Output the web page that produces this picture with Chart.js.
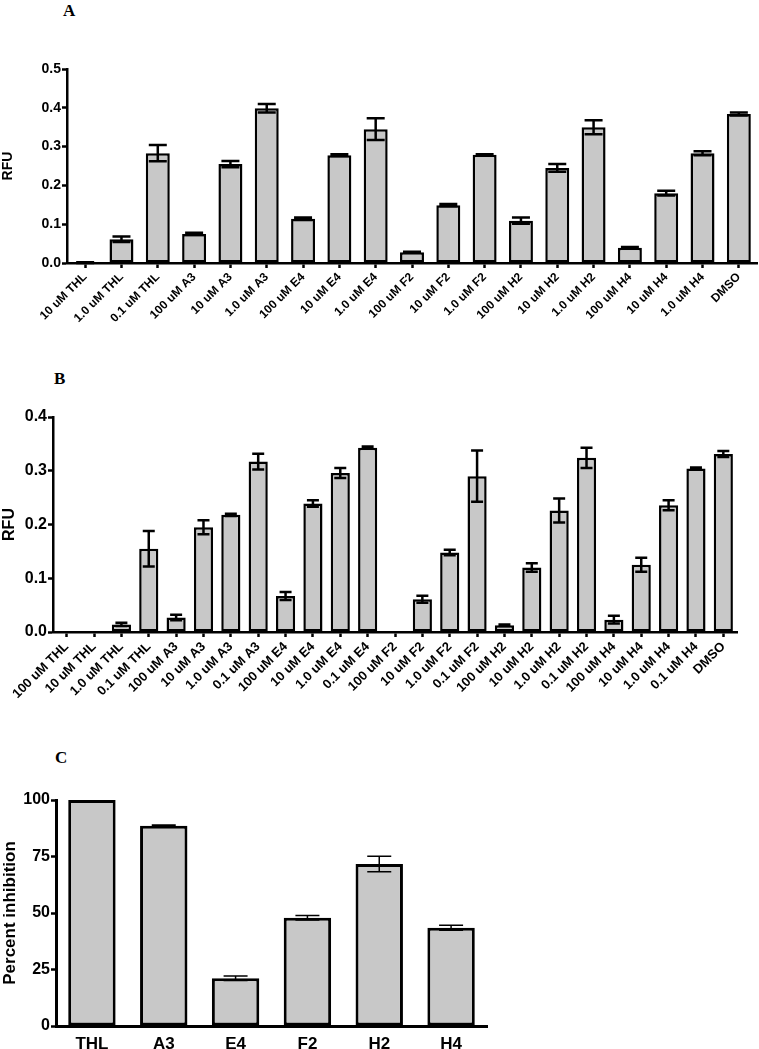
<!DOCTYPE html>
<html>
<head>
<meta charset="utf-8">
<script src="https://cdn.jsdelivr.net/npm/chart.js@4.4.1/dist/chart.umd.min.js"></script>
<style>
  body { margin: 0; background: #fff; width: 759px; height: 1049px; overflow: hidden; position: relative; }
  .panel { position: absolute; left: 0; width: 759px; }
  .letter { position: absolute; font: bold 17px "Liberation Serif", "Times New Roman", serif; line-height: 17px; color: #000; }
</style>
</head>
<body>
<div class="letter" style="left:63px; top:2px;">A</div>
<div class="letter" style="left:54px; top:370px;">B</div>
<div class="letter" style="left:55px; top:749px;">C</div>
<div class="panel" style="top:0px; height:340px;"><canvas id="chartA"></canvas></div>
<div class="panel" style="top:350px; height:360px;"><canvas id="chartB"></canvas></div>
<div class="panel" style="top:720px; height:329px;"><canvas id="chartC"></canvas></div>
<script>
// panel A
const labelsA = [
  "10 uM THL", "1.0 uM THL", "0.1 uM THL",
  "100 uM A3", "10 uM A3", "1.0 uM A3",
  "100 uM E4", "10 uM E4", "1.0 uM E4",
  "100 uM F2", "10 uM F2", "1.0 uM F2",
  "100 uM H2", "10 uM H2", "1.0 uM H2",
  "100 uM H4", "10 uM H4", "1.0 uM H4",
  "DMSO",
];
const rfuA = [0.001, 0.061, 0.283, 0.075, 0.255, 0.399, 0.114, 0.278, 0.345, 0.028, 0.149, 0.279, 0.109, 0.245, 0.350, 0.039, 0.180, 0.283, 0.384];
const errA = [0.001, 0.007, 0.021, 0.003, 0.008, 0.011, 0.003, 0.002, 0.028, 0.001, 0.003, 0.001, 0.008, 0.010, 0.018, 0.002, 0.006, 0.005, 0.004];
const ticksA = [0, 0.1, 0.2, 0.3, 0.4, 0.5];

// panel B
const labelsB = [
  "100 uM THL", "10 uM THL", "1.0 uM THL", "0.1 uM THL",
  "100 uM A3", "10 uM A3", "1.0 uM A3", "0.1 uM A3",
  "100 uM E4", "10 uM E4", "1.0 uM E4", "0.1 uM E4",
  "100 uM F2", "10 uM F2", "1.0 uM F2", "0.1 uM F2",
  "100 uM H2", "10 uM H2", "1.0 uM H2", "0.1 uM H2",
  "100 uM H4", "10 uM H4", "1.0 uM H4", "0.1 uM H4",
  "DMSO",
];
const rfuB = [0, 0, 0.014, 0.155, 0.027, 0.195, 0.218, 0.317, 0.067, 0.239, 0.296, 0.343, 0, 0.061, 0.148, 0.290, 0.0125, 0.120, 0.226, 0.324, 0.023, 0.125, 0.236, 0.304, 0.331];
const errB = [0, 0, 0.003, 0.033, 0.005, 0.013, 0.002, 0.0146, 0.0075, 0.006, 0.0093, 0.002, 0, 0.0065, 0.005, 0.0475, 0.0015, 0.008, 0.0223, 0.019, 0.0074, 0.013, 0.0093, 0.002, 0.0056];
const ticksB = [0, 0.1, 0.2, 0.3, 0.4];

// panel C
const labelsC = ["THL", "A3", "E4", "F2", "H2", "H4"];
const inhibC = [100, 88.6, 21.1, 47.9, 71.7, 43.5];
const errC = [0, 0.3, 1.0, 1.0, 3.4, 1.1];
const ticksC = [0, 25, 50, 75, 100];

const FONT = "'Liberation Sans', Arial, Helvetica, sans-serif";

// draws mean +/- error whiskers on top of the bars
const errorBars = {
  id: "errorBars",
  afterDatasetsDraw(chart, args, opts) {
    const ctx = chart.ctx;
    const y = chart.scales.y;
    const meta = chart.getDatasetMeta(0);
    const data = chart.data.datasets[0].data;
    ctx.save();
    ctx.strokeStyle = "#000";
    ctx.lineWidth = opts.lineWidth;
    meta.data.forEach((bar, i) => {
      const e = opts.errors[i];
      if (!e) return;
      const top = y.getPixelForValue(data[i] + e);
      const bot = y.getPixelForValue(data[i] - e);
      const w = opts.cap;
      ctx.beginPath();
      ctx.moveTo(bar.x, top);
      ctx.lineTo(bar.x, bot);
      ctx.moveTo(bar.x - w, top);
      ctx.lineTo(bar.x + w, top);
      ctx.moveTo(bar.x - w, bot);
      ctx.lineTo(bar.x + w, bot);
      ctx.stroke();
    });
    ctx.restore();
  },
};

function makePanel(id, labels, values, errors, tickVals, cfg) {
  new Chart(document.getElementById(id).getContext("2d"), {
    type: "bar",
    data: {
      labels: labels,
      datasets: [
        {
          data: values,
          backgroundColor: "#c8c8c8",
          borderColor: "#000",
          borderWidth: cfg.barBorder,
          borderSkipped: false,
          categoryPercentage: 1,
          barPercentage: cfg.barPct,
        },
      ],
    },
    options: {
      responsive: true,
      maintainAspectRatio: false,
      animation: false,
      layout: { padding: cfg.padding },
      plugins: {
        legend: { display: false },
        tooltip: { enabled: false },
        errorBars: { errors: errors, cap: cfg.cap, lineWidth: cfg.errWidth },
      },
      scales: {
        x: {
          offset: true,
          afterFit: (scale) => { scale.height = cfg.xHeight; },
          grid: {
            display: true,
            offset: false,
            drawOnChartArea: false,
            drawTicks: cfg.xTicks,
            tickLength: 5,
            tickWidth: 2.5,
            tickColor: "#000",
          },
          border: { display: true, color: "#000", width: cfg.axisWidth },
          ticks: {
            color: "#000",
            autoSkip: false,
            minRotation: cfg.rot,
            maxRotation: cfg.rot,
            padding: cfg.xPad,
            font: { family: FONT, size: cfg.xFont, weight: "bold" },
          },
        },
        y: {
          min: tickVals[0],
          max: tickVals[tickVals.length - 1],
          afterFit: (scale) => { scale.width = cfg.yWidth; },
          afterBuildTicks: (scale) => {
            scale.ticks = tickVals.map((v) => ({ value: v }));
          },
          grid: {
            display: true,
            drawOnChartArea: false,
            tickLength: 5,
            tickWidth: 2.5,
            tickColor: "#000",
          },
          border: { display: true, color: "#000", width: cfg.axisWidth },
          ticks: {
            color: "#000",
            padding: 1,
            font: { family: FONT, size: cfg.yFont, weight: "bold" },
            callback: (v) => cfg.fmt(v),
          },
          title: {
            display: true,
            text: cfg.title,
            color: "#000",
            padding: 0,
            font: { family: FONT, size: cfg.titleFont, weight: "bold" },
          },
        },
      },
    },
    plugins: [errorBars],
  });
}

makePanel("chartA", labelsA, rfuA, errA, ticksA, {
  padding: { top: 69, right: 2, left: 0, bottom: 0 },
  xHeight: 77, yWidth: 67,
  barPct: 0.66, barBorder: 2.5, cap: 9, errWidth: 2.5, axisWidth: 2.5,
  xTicks: true, rot: 45, xPad: 2, xFont: 12, yFont: 14,
  title: "RFU", titleFont: 14, fmt: (v) => v.toFixed(1),
});

makePanel("chartB", labelsB, rfuB, errB, ticksB, {
  padding: { top: 67, right: 22, left: 0, bottom: 0 },
  xHeight: 78, yWidth: 53,
  barPct: 0.7, barBorder: 2.5, cap: 6, errWidth: 2.5, axisWidth: 2.5,
  xTicks: true, rot: 45, xPad: 2, xFont: 13, yFont: 16,
  title: "RFU", titleFont: 16, fmt: (v) => v.toFixed(1),
});

makePanel("chartC", labelsC, inhibC, errC, ticksC, {
  padding: { top: 80, right: 272, left: 0, bottom: 0 },
  xHeight: 23, yWidth: 56,
  barPct: 0.66, barBorder: 3, cap: 12, errWidth: 1.5, axisWidth: 3,
  xTicks: false, rot: 0, xPad: 8, xFont: 17, yFont: 16,
  title: "Percent inhibition", titleFont: 17, fmt: (v) => String(v),
});
</script>
</body>
</html>
